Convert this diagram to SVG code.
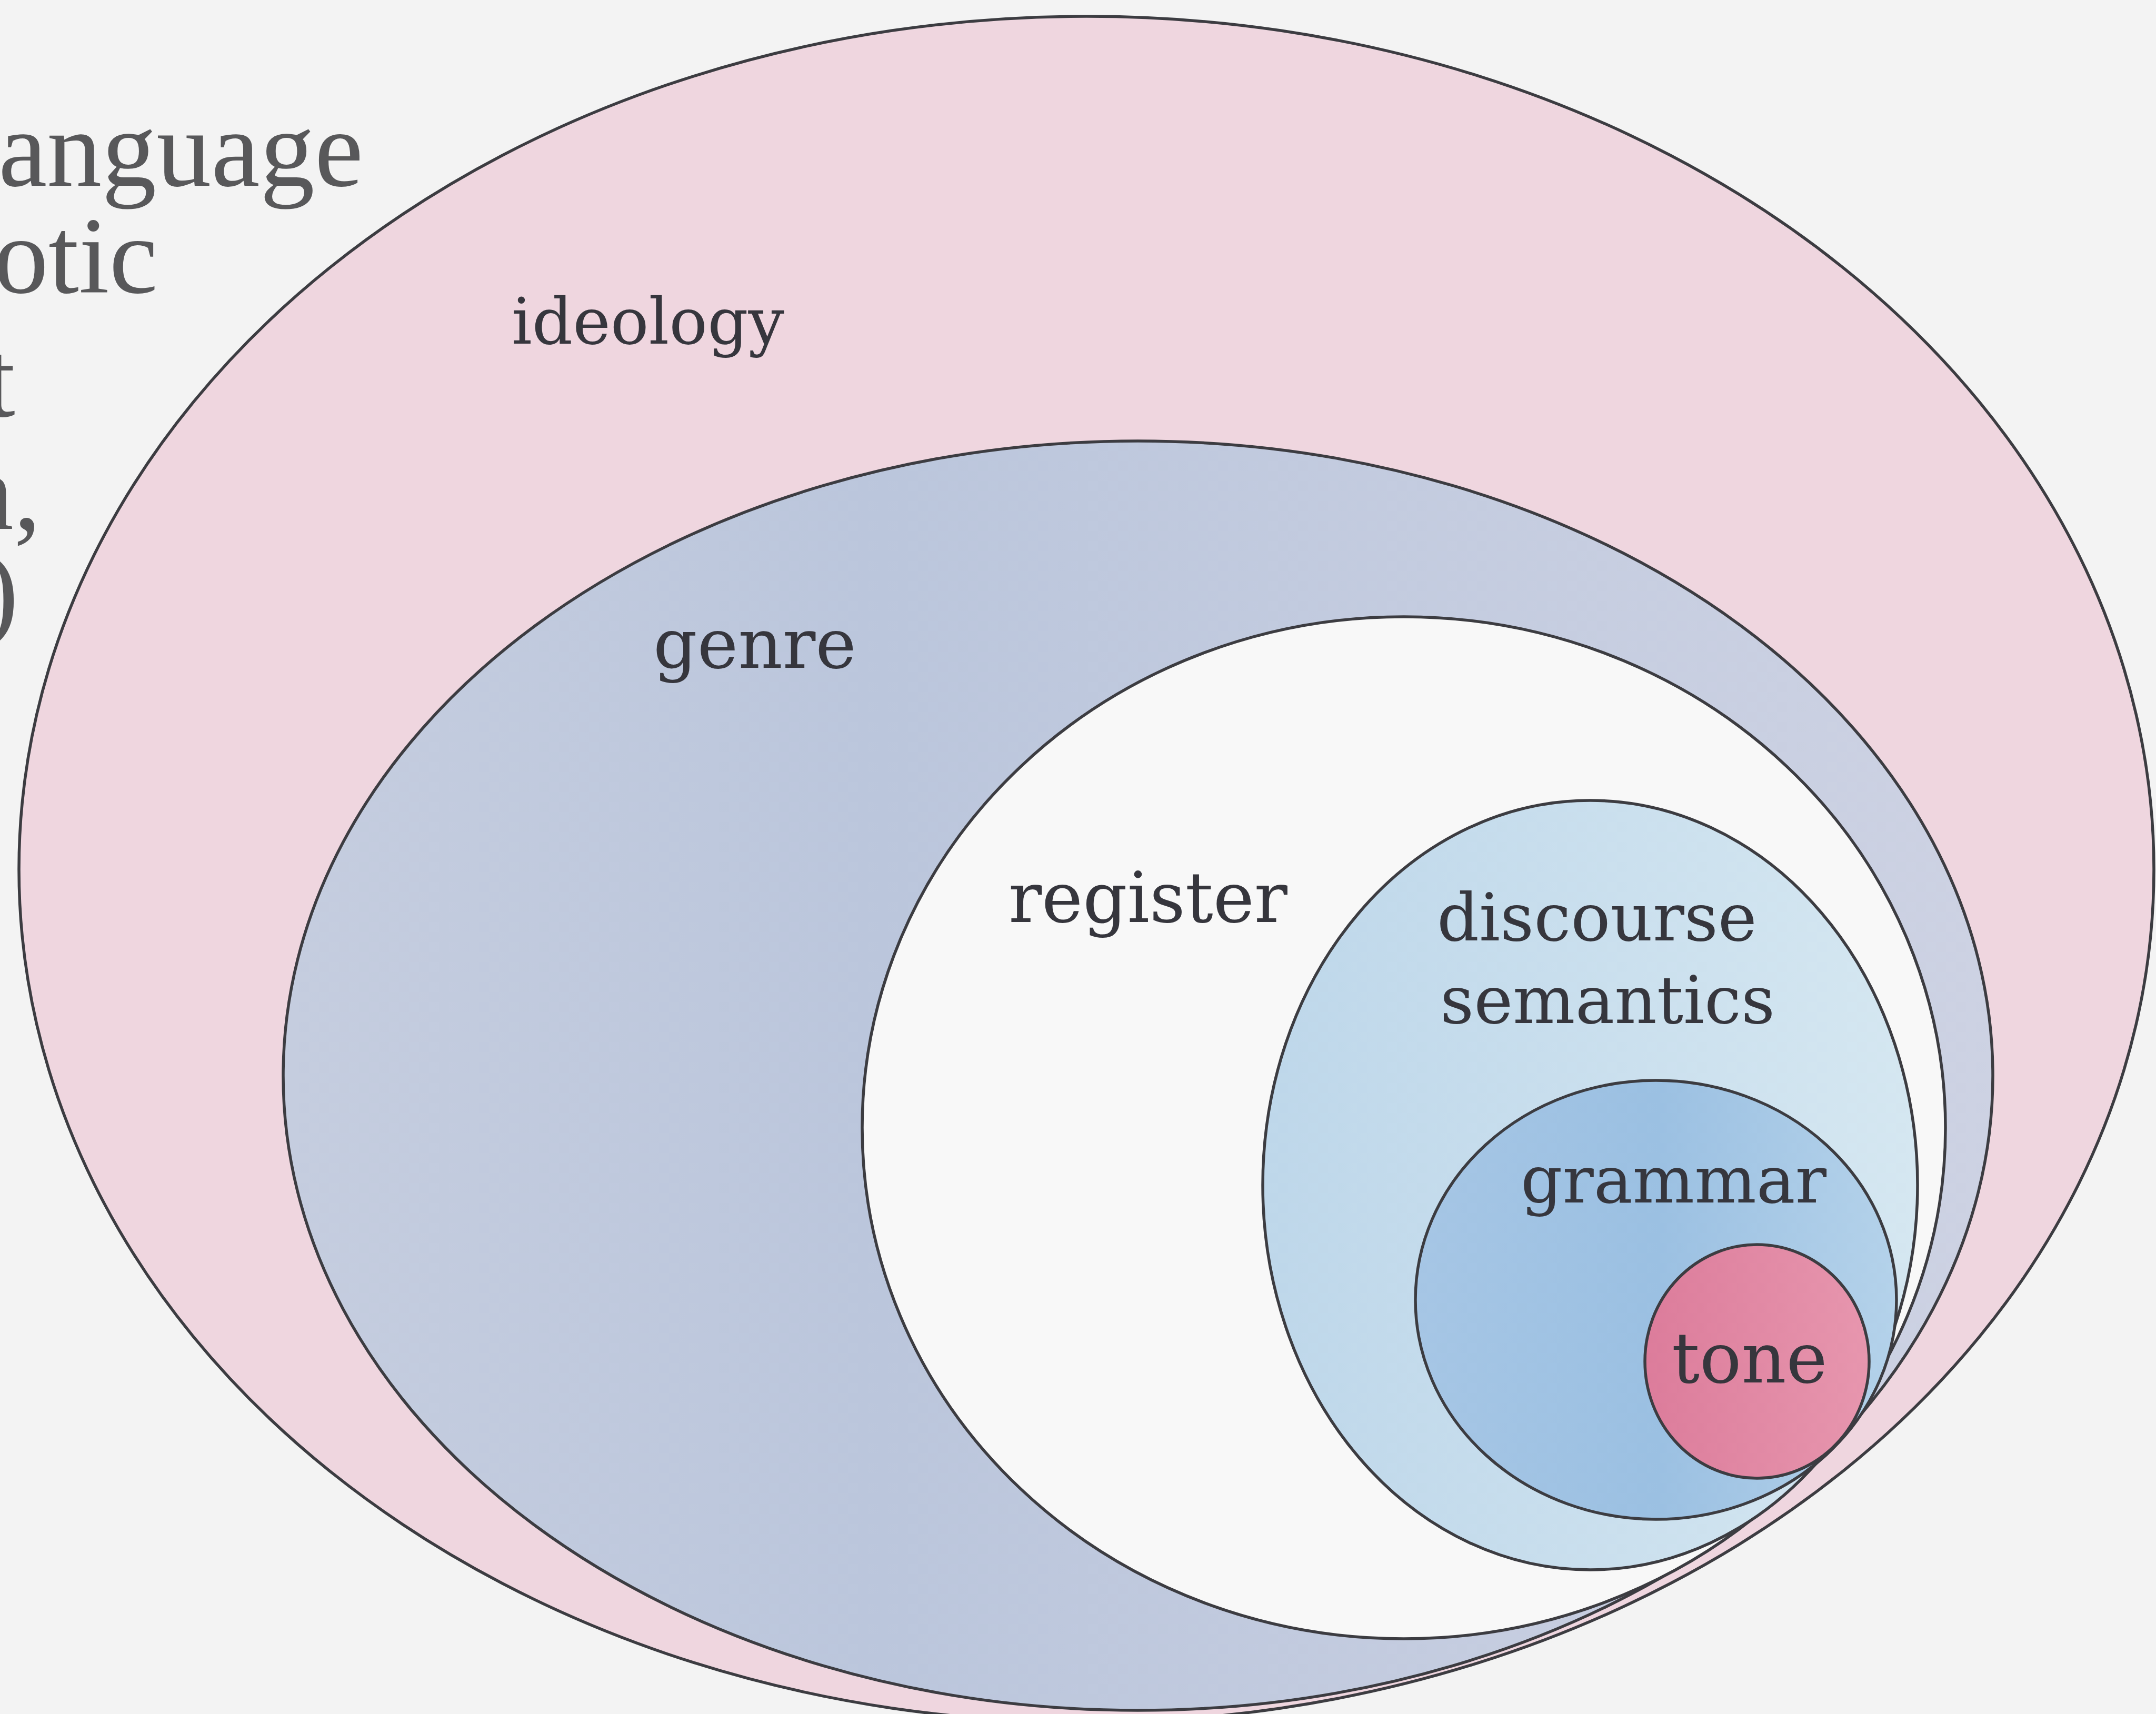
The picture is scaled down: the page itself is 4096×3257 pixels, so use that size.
<svg xmlns="http://www.w3.org/2000/svg" width="4096" height="3257" viewBox="0 0 4096 3257">
  <defs>
    <style>
      .ring { stroke: #3c3c41; stroke-width: 5.5; }
      .label { font-family: "DejaVu Serif", "Liberation Serif", serif; fill: #36363d; }
      .margin { font-family: "Liberation Serif", "DejaVu Serif", serif; fill: #58585a; font-size: 208px; }
    </style>
    <linearGradient id="genreFill" x1="0" y1="0" x2="1" y2="0">
      <stop offset="0" stop-color="#c5cddf"/>
      <stop offset="0.35" stop-color="#bbc6dc"/>
      <stop offset="1" stop-color="#cdd2e3"/>
    </linearGradient>
    <linearGradient id="discourseFill" x1="0" y1="0" x2="1" y2="0">
      <stop offset="0" stop-color="#bed7ea"/>
      <stop offset="1" stop-color="#d5e7f1"/>
    </linearGradient>
    <linearGradient id="grammarFill" x1="0" y1="0" x2="1" y2="0">
      <stop offset="0" stop-color="#a6c6e5"/>
      <stop offset="0.5" stop-color="#9bc0e2"/>
      <stop offset="1" stop-color="#b4d2ea"/>
    </linearGradient>
    <linearGradient id="toneFill" x1="0" y1="0" x2="1" y2="0">
      <stop offset="0" stop-color="#dc7c9b"/>
      <stop offset="1" stop-color="#e796ae"/>
    </linearGradient>
  </defs>

  <!-- page -->
  <rect x="0" y="0" width="4096" height="3257" fill="#f3f3f3"/>

  <!-- running text cut by the left page edge -->
  <g id="margin-text">
    <text class="margin" x="-3" y="353">anguage</text>
    <text class="margin" x="-12" y="556">otic</text>
    <text class="margin" x="-29" y="791">t</text>
    <text class="margin" x="-78" y="1005">n,</text>
    <text class="margin" x="-34" y="1192">)</text>
  </g>

  <!-- nested strata, outermost first -->
  <g id="ideology">
    <ellipse class="ring" cx="2064" cy="1652" rx="2028" ry="1621" fill="#efd6df"/>
    <text class="label" x="972" y="653" font-size="121">ideology</text>
  </g>

  <g id="genre">
    <ellipse class="ring" cx="2162" cy="2044" rx="1624" ry="1206" fill="url(#genreFill)"/>
    <text class="label" x="1241" y="1269" font-size="131">genre</text>
  </g>

  <g id="register">
    <ellipse class="ring" cx="2667" cy="2143" rx="1029" ry="971" fill="#f8f8f8"/>
    <text class="label" x="1916" y="1752" font-size="132">register</text>
  </g>

  <g id="discourse-semantics">
    <ellipse class="ring" cx="3021" cy="2252" rx="622" ry="731" fill="url(#discourseFill)"/>
    <text class="label" x="2730" y="1787" font-size="125">discourse</text>
    <text class="label" x="2736" y="1944" font-size="125">semantics</text>
  </g>

  <g id="grammar">
    <ellipse class="ring" cx="3146" cy="2470" rx="457" ry="417" fill="url(#grammarFill)"/>
    <text class="label" x="2889" y="2285" font-size="124">grammar</text>
  </g>

  <g id="tone">
    <ellipse class="ring" cx="3338" cy="2587" rx="213" ry="222" fill="url(#toneFill)"/>
    <text class="label" x="3176" y="2627" font-size="132">tone</text>
  </g>
</svg>
